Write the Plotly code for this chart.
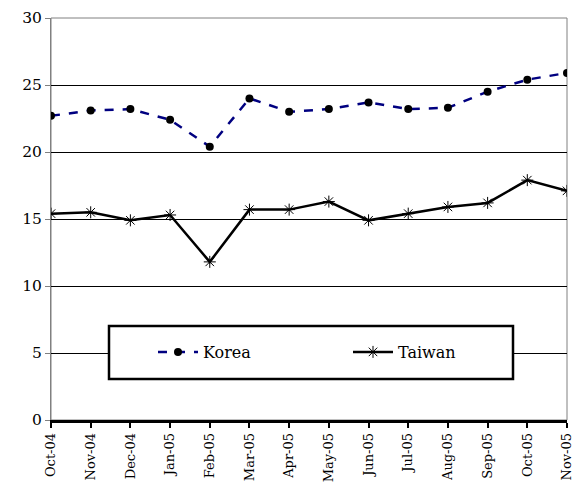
import plotly.graph_objects as go

months = ["Oct-04", "Nov-04", "Dec-04", "Jan-05", "Feb-05", "Mar-05", "Apr-05",
          "May-05", "Jun-05", "Jul-05", "Aug-05", "Sep-05", "Oct-05", "Nov-05"]
korea = [22.7, 23.1, 23.2, 22.4, 20.4, 24.0, 23.0, 23.2, 23.7, 23.2, 23.3, 24.5, 25.4, 25.9]
taiwan = [15.4, 15.5, 14.9, 15.3, 11.8, 15.7, 15.7, 16.3, 14.9, 15.4, 15.9, 16.2, 17.9, 17.1]
y_ticks = [0, 5, 10, 15, 20, 25, 30]

FONT = "DejaVu Serif"

fig = go.Figure()
fig.add_trace(go.Scatter(
    x=months, y=korea, name="Korea", mode="lines+markers",
    line=dict(color="#000080", width=2.5, dash="dash"),
    marker=dict(symbol="circle", size=8, color="black"),
))
fig.add_trace(go.Scatter(
    x=months, y=taiwan, name="Taiwan", mode="lines+markers",
    line=dict(color="black", width=2.5),
    marker=dict(symbol="asterisk-open", size=10, line=dict(color="black", width=1)),
))

# plot area border (gray)
fig.add_shape(type="rect", xref="paper", yref="paper", x0=0, x1=1, y0=0, y1=1,
              line=dict(color="#808080", width=1), layer="below")
# legend box
fig.add_shape(type="rect", xref="paper", yref="paper",
              x0=(109 - 51) / 516, x1=(513 - 51) / 516,
              y0=(420 - 379) / 402, y1=(420 - 326) / 402,
              line=dict(color="black", width=2.5), fillcolor="white", layer="above")

fig.update_layout(
    width=572, height=474,
    margin=dict(l=43, r=13, t=10, b=62, autoexpand=False),
    paper_bgcolor="white", plot_bgcolor="white",
    font=dict(family=FONT, color="black"),
    showlegend=True,
    legend=dict(
        orientation="h", x=(153 - 51) / 516, y=(420 - 352) / 402,
        xanchor="left", yanchor="middle",
        bgcolor="rgba(0,0,0,0)", borderwidth=0,
        font=dict(family=FONT, size=16, color="black"),
        itemwidth=40,
        entrywidth=140, entrywidthmode="pixels",
    ),
    xaxis=dict(
        type="category", range=[0, len(months) - 1], automargin=False,
        tickangle=-90, tickfont=dict(family=FONT, size=13),
        ticks="outside", ticklen=5, tickwidth=2, tickcolor="black",
        showline=True, linecolor="black", linewidth=2.5,
        showgrid=False, zeroline=False,
    ),
    yaxis=dict(
        range=[0, 30], tickvals=y_ticks, tickfont=dict(family=FONT, size=15.5),
        automargin=False,
        ticks="outside", ticklen=5, tickcolor="#808080",
        showline=True, linecolor="#808080", linewidth=1,
        showgrid=True, gridcolor="black", gridwidth=1, zeroline=False,
    ),
)

fig.write_html("out.html")
